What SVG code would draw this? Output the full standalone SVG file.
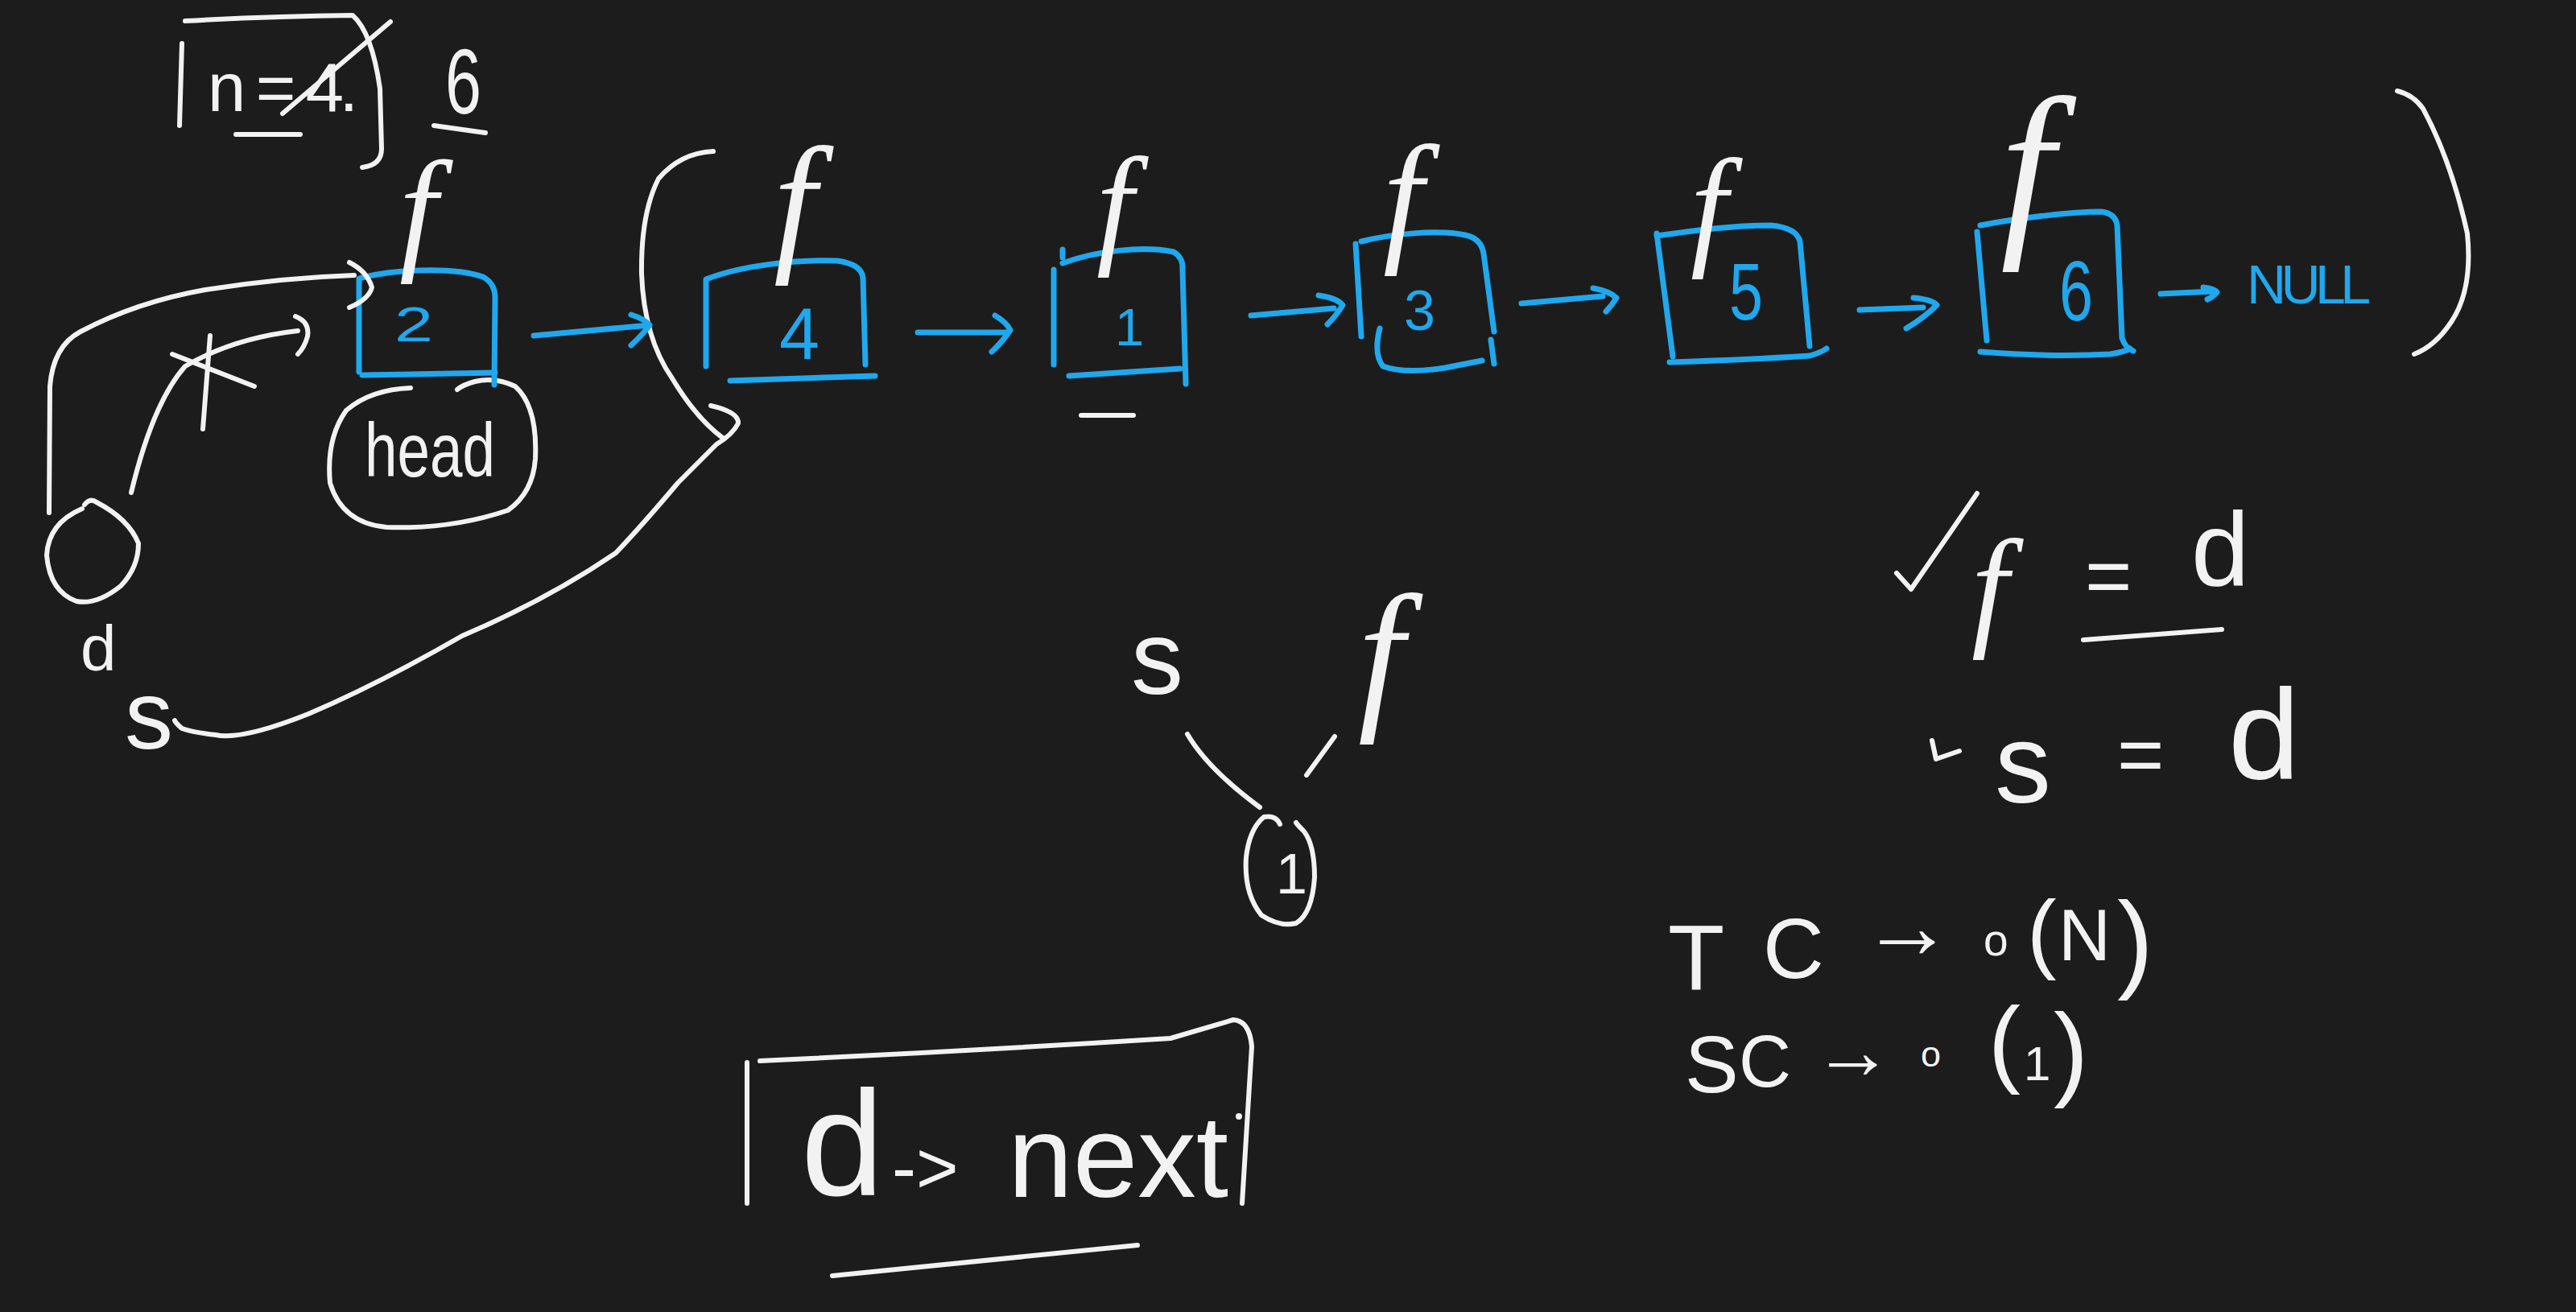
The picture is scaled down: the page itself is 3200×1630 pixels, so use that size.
<svg xmlns="http://www.w3.org/2000/svg" width="3200" height="1630" viewBox="0 0 3200 1630">
<style>
.w{fill:none;stroke:#f2f2f2;stroke-width:6;stroke-linecap:round;stroke-linejoin:round}
.b{fill:none;stroke:#1fa8ee;stroke-width:7;stroke-linecap:round;stroke-linejoin:round}
.t{fill:#f2f2f2;font-family:"Liberation Sans","DejaVu Sans",sans-serif}
.bt{fill:#1fa8ee;font-family:"Liberation Sans","DejaVu Sans",sans-serif}
.f{fill:#f2f2f2;font-family:"Liberation Serif","DejaVu Serif",serif;font-style:italic}
</style>
<rect width="3200" height="1630" fill="#1c1c1c"/>

<g id="n-box">
<path class="w" d="M230,26 Q340,20 438,19 Q462,40 472,110 L474,185 Q474,205 450,208"/>
<path class="w" d="M226,54 L223,156"/>
<text class="t" x="258" y="138" font-size="85" textLength="187">n = 4.</text>
<path class="w" d="M351,141 L485,27"/>
<path class="w" d="M293,167 L373,167"/>
<text class="t" x="553" y="141" font-size="115" textLength="45" lengthAdjust="spacingAndGlyphs">6</text>
<path class="w" d="M539,156 L603,165"/>
</g>

<g id="dummy">
<path class="w" d="M105,627 Q112,618 120,624 Q160,645 172,675 Q172,705 150,728 Q120,752 95,747 Q62,735 58,690 Q60,650 102,632"/>
<text class="t" x="100" y="833" font-size="80">d</text>
<text class="t" x="155" y="930" font-size="120">s</text>
</g>

<g id="head-label">
<path class="w" d="M510,482 Q460,484 430,510 Q405,545 410,600 Q425,650 480,655 Q560,658 631,634 Q662,612 665,570 Q668,505 640,480 Q615,468 590,474 Q575,478 568,484"/>
<text class="t" x="453" y="592" font-size="95" textLength="162" lengthAdjust="spacingAndGlyphs">head</text>
</g>

<g id="node-2">
<path class="b" d="M446,462 L446,346 C480,336 560,330 600,344 Q615,352 615,370 L614,478"/>
<path class="b" d="M450,466 L615,463"/>
<text class="bt" x="490" y="424" font-size="62" textLength="48" lengthAdjust="spacingAndGlyphs">2</text>
</g>
<g id="node-4">
<path class="b" d="M877,455 L877,347 C920,330 990,322 1040,324 Q1070,328 1072,345 L1075,453"/>
<path class="b" d="M907,473 L1087,467"/>
<text class="bt" x="968" y="446" font-size="90">4</text>
</g>
<g id="node-1">
<path class="b" d="M1309,453 L1309,335"/>
<path class="b" d="M1320,310 L1320,320"/>
<path class="b" d="M1320,327 C1360,312 1420,305 1458,313 Q1470,320 1469,335 L1473,477"/>
<path class="b" d="M1328,467 L1466,458"/>
<text class="bt" x="1385" y="429" font-size="65">1</text>
</g>
<g id="node-3">
<path class="b" d="M1684,303 L1691,418"/>
<path class="b" d="M1691,300 C1730,290 1790,285 1820,292 Q1840,296 1843,315 L1856,412"/>
<path class="b" d="M1852,422 L1856,452"/>
<path class="b" d="M1714,408 Q1706,440 1718,455 Q1745,465 1795,457 L1841,448"/>
<text class="bt" x="1744" y="410" font-size="70">3</text>
</g>
<g id="node-5">
<path class="b" d="M2058,290 L2078,443"/>
<path class="b" d="M2058,293 C2100,287 2150,280 2200,280 Q2232,283 2236,300 L2248,430"/>
<path class="b" d="M2074,450 Q2170,447 2248,442 Q2262,438 2269,433"/>
<text class="bt" x="2148" y="397" font-size="100" textLength="42" lengthAdjust="spacingAndGlyphs">5</text>
</g>
<g id="node-6">
<path class="b" d="M2456,288 L2468,423"/>
<path class="b" d="M2460,280 C2500,272 2570,263 2610,263 Q2628,265 2630,280 L2636,420 Q2640,432 2650,436"/>
<path class="b" d="M2460,437 Q2550,444 2621,440 Q2640,437 2646,433"/>
<text class="bt" x="2558" y="398" font-size="105" textLength="42" lengthAdjust="spacingAndGlyphs">6</text>
</g>
<g id="null">
<text class="bt" x="2791" y="377" font-size="68" textLength="154">NULL</text>
</g>

<g id="fast-pointers">
<text class="f" x="496" y="317" font-size="170">f</text>
<text class="f" x="961" y="314" font-size="190">f</text>
<text class="f" x="1362" y="310" font-size="165">f</text>
<text class="f" x="1718" y="305" font-size="180">f</text>
<text class="f" x="2100" y="312" font-size="165">f</text>
<text class="f" x="2485" y="287" font-size="240">f</text>
</g>

<g id="brackets">
<path class="w" d="M886,188 Q845,190 818,222 Q796,265 797,340 Q800,420 835,470 Q865,520 899,545"/>
<path class="w" d="M2978,113 Q2998,118 3010,135 Q3045,200 3065,290 Q3072,360 3045,400 Q3025,430 2999,440"/>
</g>

<g id="connectors">
<path class="w" d="M61,637 L62,480 Q66,430 100,412 Q170,375 255,360 Q350,345 440,342"/>
<path class="w" d="M434,326 Q456,337 462,357 Q458,372 434,382"/>
<path class="w" d="M163,612 Q190,500 230,455 Q290,420 370,411"/>
<path class="w" d="M367,393 Q385,400 382,418 Q378,432 370,440"/>
<path class="w" d="M214,440 L316,480 M261,417 L252,533"/>
<path class="w" d="M883,504 Q918,512 917,526 Q910,540 890,552 Q870,572 842,600 Q800,650 765,687 Q680,745 574,790 Q470,850 383,887 Q300,920 268,913 Q240,910 226,905 Q218,898 217,895"/>
<path class="b" d="M663,417 L807,404 M784,391 Q800,396 807,404 Q798,416 784,429"/>
<path class="b" d="M1140,413 L1251,413 M1236,392 Q1250,400 1255,410 Q1246,424 1232,437"/>
<path class="b" d="M1554,392 L1657,383 M1638,367 Q1660,370 1668,379 Q1660,392 1649,403"/>
<path class="b" d="M1890,377 L1991,368 M1979,358 Q2000,362 2008,370 Q2002,380 1995,387"/>
<path class="b" d="M2310,385 L2389,382 M2377,370 Q2400,372 2406,379 Q2390,395 2368,408"/>
<path class="b" d="M2684,365 L2750,362 M2737,357 Q2750,358 2754,363 Q2750,368 2742,372"/>
<path class="w" d="M1343,516 L1408,516"/>
</g>

<g id="tree">
<text class="t" x="1405" y="862" font-size="130">s</text>
<text class="f" x="1687" y="881" font-size="205">f</text>
<path class="w" d="M1475,912 Q1500,955 1565,1003"/>
<path class="w" d="M1658,915 L1623,963"/>
<path class="w" d="M1590,1024 Q1585,1012 1570,1015 Q1552,1030 1548,1065 Q1545,1110 1567,1137 Q1590,1152 1610,1147 Q1630,1135 1633,1090 Q1633,1050 1620,1033 Q1612,1025 1610,1022"/>
<text class="t" x="1585" y="1110" font-size="70">1</text>
</g>

<g id="conditions">
<path class="w" d="M2356,712 L2374,732 L2456,613"/>
<text class="t"><tspan class="f" x="2449" y="785" font-size="165">f</tspan><tspan x="2590" y="750" font-size="100">=</tspan><tspan x="2722" y="727" font-size="130">d</tspan></text>
<path class="w" d="M2588,795 L2760,782"/>
<path class="w" d="M2400,920 L2405,943 L2434,933"/>
<text class="t"><tspan x="2478" y="997" font-size="140">s</tspan><tspan x="2630" y="972" font-size="100">=</tspan><tspan x="2768" y="968" font-size="160">d</tspan></text>
</g>

<g id="complexity">
<text class="t"><tspan x="2072" y="1230" font-size="115">T</tspan><tspan x="2190" y="1215" font-size="105">C</tspan><tspan x="2312" y="1190" font-size="115">→</tspan><tspan x="2464" y="1187" font-size="55">o</tspan><tspan x="2518" y="1195" font-size="110">(</tspan><tspan x="2557" y="1193" font-size="90">N</tspan><tspan x="2630" y="1215" font-size="135">)</tspan></text>
<text class="t"><tspan x="2093" y="1357" font-size="100">S</tspan><tspan x="2160" y="1350" font-size="90">C</tspan><tspan x="2252" y="1340" font-size="100">→</tspan><tspan x="2386" y="1325" font-size="45">o</tspan><tspan x="2470" y="1335" font-size="120">(</tspan><tspan x="2514" y="1342" font-size="60">1</tspan><tspan x="2551" y="1350" font-size="130">)</tspan></text>
</g>

<g id="answer">
<path class="w" d="M928,1320 L928,1495"/>
<path class="w" d="M944,1318 Q1200,1306 1454,1290 Q1495,1278 1532,1267 Q1552,1268 1555,1300 L1543,1495"/>
<text class="t"><tspan x="995" y="1485" font-size="185">d</tspan><tspan x="1108" y="1482" font-size="90">-&gt;</tspan><tspan x="1252" y="1487" font-size="145">next</tspan></text>
<circle cx="1539" cy="1387" r="4" fill="#f2f2f2"/>
<path class="w" d="M1034,1585 L1413,1547"/>
</g>
</svg>
